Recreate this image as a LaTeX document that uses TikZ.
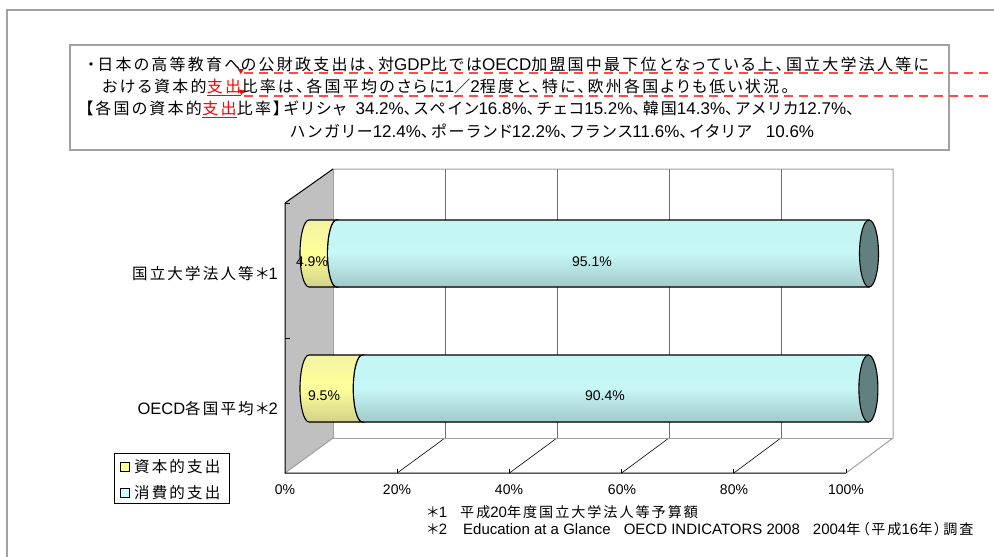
\documentclass[tikz,border=0pt]{standalone}
\usepackage{fontspec}
\setmainfont{Liberation Sans}
\newfontfamily\jp[Scale=0.94, LetterSpace=14, RawFeature=+palt]{Noto Sans CJK JP}
\usepackage{tikz}
\usepackage{xcolor}
\usetikzlibrary{positioning}

\definecolor{framegray}{HTML}{A0A0A0}
\definecolor{wallgray}{HTML}{C0C0C0}
\definecolor{gridgray}{HTML}{707070}
\definecolor{trkred}{HTML}{FF4848}
\definecolor{yeltop}{HTML}{F3F3A2}
\definecolor{yelmid}{HTML}{FFFF99}
\definecolor{yelbot}{HTML}{D2D28A}
\definecolor{cyntop}{HTML}{C4F6F6}
\definecolor{cynmid}{HTML}{C6F6F6}
\definecolor{cynbot}{HTML}{A2CACA}
\definecolor{capteal}{HTML}{628080}
\definecolor{legcyan}{HTML}{CCFFFF}

\begin{document}
\begin{tikzpicture}[x=1pt,y=-1pt]
	\tikzstyle{txt} = [inner sep=0pt, anchor=base west, font=\fontsize{17}{20}\selectfont]
	\tikzstyle{fn} = [inner sep=0pt, anchor=base west, font=\fontsize{15}{18}\selectfont]
	\tikzstyle{cat} = [inner sep=0pt, anchor=base east, font=\fontsize{16.5}{19}\selectfont]
	\tikzstyle{pct} = [inner sep=0pt, font=\fontsize{14}{17}\selectfont]
	\tikzstyle{trk} = [trkred, dash pattern=on 9pt off 6pt, line width=1.2pt]
	\tikzstyle{bar} = [draw=black, line width=1.1pt]
	\tikzstyle{yelbar} = [bar, top color=yeltop, bottom color=yelbot, middle color=yelmid]
	\tikzstyle{cynbar} = [bar, top color=cyntop, bottom color=cynbot, middle color=cynmid]
	\tikzstyle{legbox} = [draw=black, line width=0.8pt, minimum size=9pt, inner sep=0pt]
	\useasboundingbox (0,0) rectangle (994,557);
	\coordinate (edge) at (994,0);
	\draw[framegray, line width=2pt] (7,10) rectangle (1010,580);

	% note box
	\draw[framegray, line width=1.4pt] (70,45) rectangle (949,150);
	\node[txt] (l1a) at (87,70) {\jp ・日本の高等教育へ};
	\node[txt] (l1b) at (l1a.base east) {{\jp の公財政支出は、対}GDP{\jp 比では}OECD{\jp 加盟国中最下位となっている上、国立大学法人等に}};
	\node[txt] (l2a) at (102,92) {\jp おける資本的};
	\node[txt, red] (l2b) at (l2a.base east) {\underline{\jp 支出}};
	\node[txt] (l2c) at (l2b.base east) {{\jp 比率は、各国平均のさらに}1{\jp ／}2{\jp 程度と、特に、欧州各国よりも低い状況。}};
	\node[txt] (l3a) at (85,114) {\jp 【各国の資本的};
	\node[txt, red] (l3b) at (l3a.base east) {\underline{\jp 支出}};
	\node[txt] (l3c) at (l3b.base east) {{\jp 比率】ギリシャ}\ \ 34.2\%{\jp 、スペイン}16.8\%{\jp 、チェコ}15.2\%{\jp 、韓国}14.3\%{\jp 、アメリカ}12.7\%{\jp 、}};
	\node[txt] (l4) at (290,137) {{\jp ハンガリー}12.4\%{\jp 、ポーランド}12.2\%{\jp 、フランス}11.6\%{\jp 、イタリア}\ \ \ 10.6\%};

	% track marks
	\coordinate (m1) at ([yshift=1pt]l1a.base east);
	\coordinate (m2) at ([yshift=2pt]l2b.base east);
	\fill[red] (m1) ++(-3,0) -- ++(6,0) -- ++(-3,5) -- cycle;
	\fill[red] (m2) ++(-3,0) -- ++(6,0) -- ++(-3,5) -- cycle;
	\draw[trk] ([xshift=3pt,yshift=-4pt]m1) -- ([xshift=3pt,yshift=-4pt]m1 -| edge);
	\draw[trk] ([xshift=3pt,yshift=-6pt]m2) -- ([xshift=3pt,yshift=-6pt]m2 -| edge);

	% walls and floor
	\coordinate (wtf) at (285,203);
	\coordinate (wbf) at (285,473);
	\coordinate (wtb) at (333,169);
	\coordinate (wbb) at (333,438);
	\coordinate (rtb) at (893,169);
	\coordinate (rbb) at (893,438);
	\coordinate (rbf) at (846,473);
	\fill[wallgray] (wtf) -- (wtb) -- (wbb) -- (wbf) -- cycle;
	\foreach \k in {1,...,4} {
		\draw[gridgray, line width=0.9pt] (333+112*\k,169) -- (333+112*\k,438);
		\draw[line width=0.6pt] (333+112*\k,438) -- (285+112.2*\k,473);
	}
	\draw[framegray, line width=1pt] (wtb) -- (rtb) -- (rbb) -- (rbf);
	\draw[framegray, line width=1pt] (wtb) -- (wbb) -- (rbb);
	\draw[framegray, line width=1pt] (wbb) -- (wbf);
	\draw[line width=1pt] (wtb) -- (wtf) -- (wbf) -- (rbf);
	\foreach \yy in {203,338} \draw[line width=0.8pt] (285,\yy) -- ++(5,0);
	\foreach \k in {1,...,5} \draw[line width=0.8pt] (285+112.2*\k,473) -- ++(0,-4);

	% bars
	\filldraw[cynbar] (336.4,220) -- (869,220) -- (869,287) -- (336.4,287) arc[start angle=90, end angle=270, x radius=9, y radius=33.5] -- cycle;
	\filldraw[yelbar] (309,220) -- (336.4,220) arc[start angle=270, end angle=90, x radius=9, y radius=33.5] -- (309,287) arc[start angle=90, end angle=270, x radius=9, y radius=33.5] -- cycle;
	\filldraw[bar, fill=capteal] (869,253.5) ellipse[x radius=9.5, y radius=33.5];
	\filldraw[cynbar] (362.2,355) -- (868.4,355) -- (868.4,422) -- (362.2,422) arc[start angle=90, end angle=270, x radius=9, y radius=33.5] -- cycle;
	\filldraw[yelbar] (309,355) -- (362.2,355) arc[start angle=270, end angle=90, x radius=9, y radius=33.5] -- (309,422) arc[start angle=90, end angle=270, x radius=9, y radius=33.5] -- cycle;
	\filldraw[bar, fill=capteal] (868.4,388.5) ellipse[x radius=9.5, y radius=33.5];

	\node[pct] (v1a) at (312,262) {4.9\%};
	\node[pct] (v1b) at (592,262) {95.1\%};
	\node[pct] (v2a) at (324,396) {9.5\%};
	\node[pct] (v2b) at (605,396) {90.4\%};

	% category labels
	\node[cat] (c1) at (278,279) {{\jp 国立大学法人等＊}1};
	\node[cat] (c2) at (278,414) {OECD{\jp 各国平均＊}2};

	% axis labels
	\node[pct] (x0) at (285,490) {0\%};
	\node[pct] (x20) at (397,490) {20\%};
	\node[pct] (x40) at (509,490) {40\%};
	\node[pct] (x60) at (622,490) {60\%};
	\node[pct] (x80) at (734,490) {80\%};
	\node[pct] (x100) at (846,490) {100\%};

	% legend
	\draw[line width=0.8pt] (114,453) rectangle (229,503);
	\node[legbox, fill=yelmid] (ly) at (125,467) {};
	\node[cat, anchor=west, right=4pt of ly] (lyt) {\jp 資本的支出};
	\node[legbox, fill=legcyan] (lc) at (125,493) {};
	\node[cat, anchor=west, right=4pt of lc] (lct) {\jp 消費的支出};

	% footnotes
	\node[fn] (f1n) at (427,517) {{\jp ＊}1};
	\node[fn] (f1t) at (460,517) {{\jp 平成}20{\jp 年度国立大学法人等予算額}};
	\node[fn] (f2n) at (427,534) {{\jp ＊}2};
	\node[fn] (f2t) at (463,534) {Education at a Glance\hspace{13pt}OECD INDICATORS 2008\hspace{13pt}2004{\jp 年（平成}16{\jp 年）調査}};
\end{tikzpicture}
\end{document}
